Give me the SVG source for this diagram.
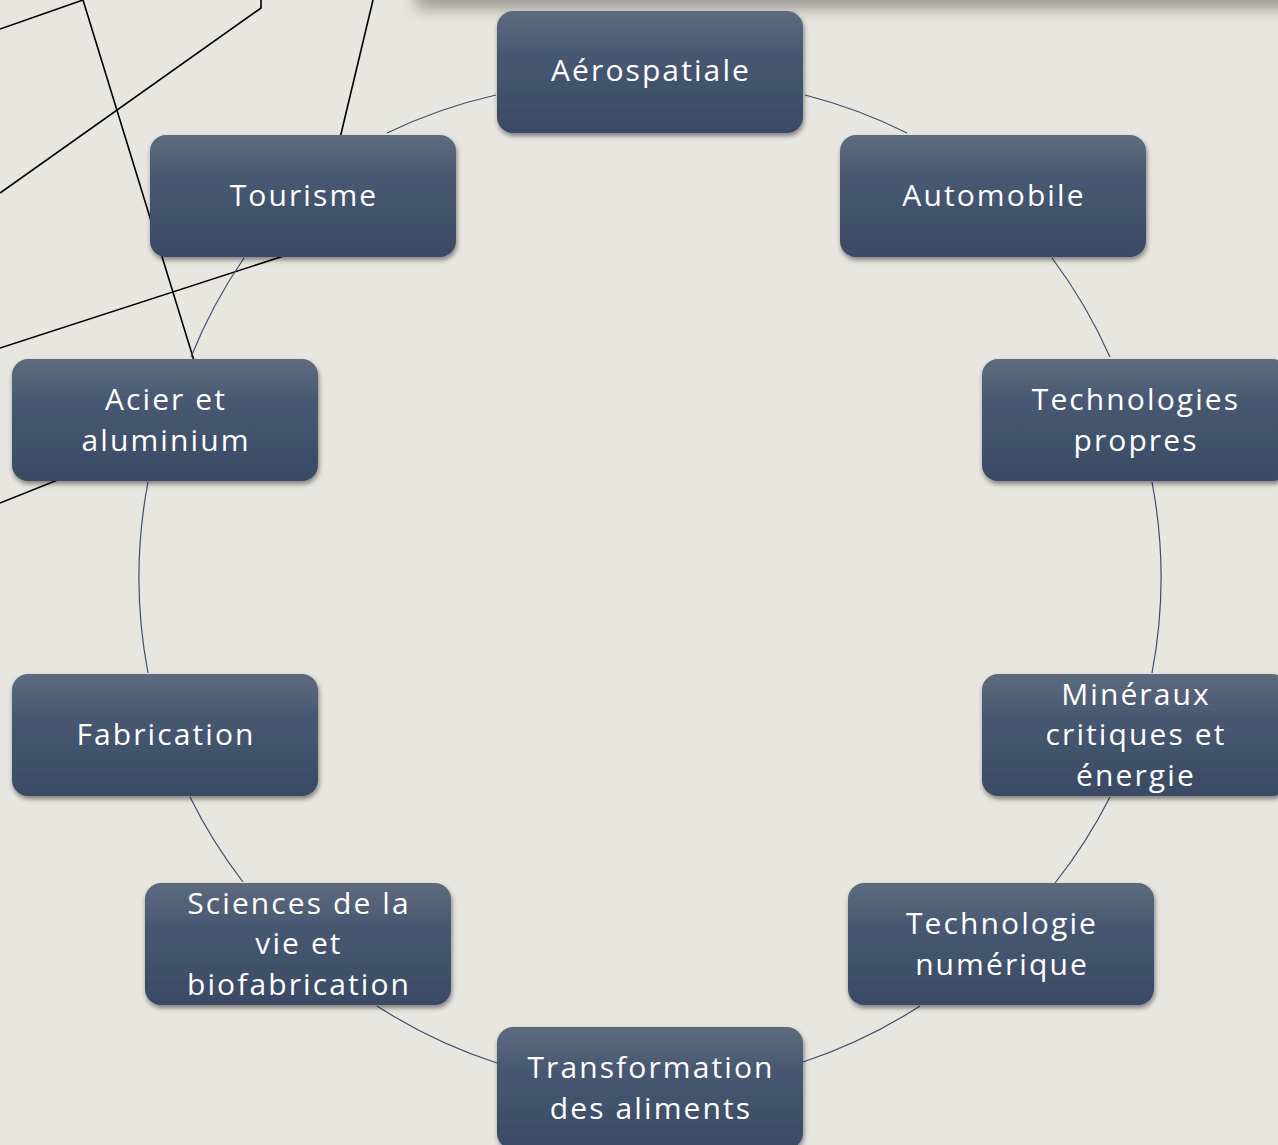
<svg xmlns="http://www.w3.org/2000/svg" width="1278" height="1145" viewBox="0 0 1278 1145">
  <defs>
    <linearGradient id="nodeFill" x1="0" y1="0" x2="0" y2="1">
      <stop offset="0" stop-color="#5e6b7e"/>
      <stop offset="0.35" stop-color="#485872"/>
      <stop offset="1" stop-color="#3a4a65"/>
    </linearGradient>
    <filter id="nodeShadow" x="-10%" y="-10%" width="120%" height="130%">
      <feDropShadow dx="1" dy="3" stdDeviation="2.5" flood-color="#000" flood-opacity="0.45"/>
    </filter>
    <filter id="bandBlur" x="-5%" y="-100%" width="110%" height="300%">
      <feGaussianBlur stdDeviation="8"/>
    </filter>
    <style>
      .node rect { fill: url(#nodeFill); filter: url(#nodeShadow); }
      .node text { fill: #ffffff; font-family: "Open Sans", "Noto Sans", "DejaVu Sans", sans-serif; font-size: 30px; letter-spacing: 2.1px; text-anchor: middle; }
      .arc { fill: none; stroke: #3d4f6c; stroke-width: 1.2; }
      .deco { fill: none; stroke: #000000; stroke-width: 1.6; stroke-linejoin: miter; }
    </style>
  </defs>

  <rect x="0" y="0" width="1278" height="1145" fill="#e8e6e0"/>

  <!-- top band shadow -->
  <rect x="416" y="-40" width="900" height="49" fill="#9c9a95" filter="url(#bandBlur)"/>

  <!-- decorative lines -->
  <g id="decor">
    <polyline class="deco" points="0,29 83,0 200,380"/>
    <polyline class="deco" points="261,-2 261,8 0,193"/>
    <line class="deco" x1="373" y1="0" x2="330" y2="180"/>
    <line class="deco" x1="0" y1="348" x2="330" y2="241"/>
    <line class="deco" x1="0" y1="503" x2="100" y2="463"/>
  </g>

  <!-- connectors -->
  <g id="connectors">
    <path class="arc" d="M805,95 A510,510 0 0 1 907,133"/>
    <path class="arc" d="M1052,258 A510,510 0 0 1 1110,357"/>
    <path class="arc" d="M1152,482 A510,510 0 0 1 1152,673"/>
    <path class="arc" d="M1110,797 A510,510 0 0 1 1055,883"/>
    <path class="arc" d="M920,1006 A510,510 0 0 1 803,1062"/>
    <path class="arc" d="M497,1063 A510,510 0 0 1 377,1006"/>
    <path class="arc" d="M243,882 A510,510 0 0 1 190,797"/>
    <path class="arc" d="M148,673 A510,510 0 0 1 148,482"/>
    <path class="arc" d="M191,357 A510,510 0 0 1 244,258"/>
    <path class="arc" d="M387,133 A510,510 0 0 1 496,95"/>
  </g>

  <g id="node-aerospatiale" class="node">
    <rect x="497" y="11" width="306" height="122" rx="16"/>
    <text x="651" y="81">Aérospatiale</text>
  </g>
  <g id="node-automobile" class="node">
    <rect x="840" y="135" width="306" height="122" rx="16"/>
    <text x="994" y="206">Automobile</text>
  </g>
  <g id="node-technologies-propres" class="node">
    <rect x="982" y="359" width="306" height="122" rx="16"/>
    <text x="1136" y="410">Technologies</text>
    <text x="1136" y="451">propres</text>
  </g>
  <g id="node-mineraux" class="node">
    <rect x="982" y="674" width="306" height="122" rx="16"/>
    <text x="1136" y="705">Minéraux</text>
    <text x="1136" y="745">critiques et</text>
    <text x="1136" y="786">énergie</text>
  </g>
  <g id="node-numerique" class="node">
    <rect x="848" y="883" width="306" height="122" rx="16"/>
    <text x="1002" y="934">Technologie</text>
    <text x="1002" y="975">numérique</text>
  </g>
  <g id="node-aliments" class="node">
    <rect x="497" y="1027" width="306" height="122" rx="16"/>
    <text x="651" y="1078">Transformation</text>
    <text x="651" y="1119">des aliments</text>
  </g>
  <g id="node-sciences" class="node">
    <rect x="145" y="883" width="306" height="122" rx="16"/>
    <text x="299" y="914">Sciences de la</text>
    <text x="299" y="954">vie et</text>
    <text x="299" y="995">biofabrication</text>
  </g>
  <g id="node-fabrication" class="node">
    <rect x="12" y="674" width="306" height="122" rx="16"/>
    <text x="166" y="745">Fabrication</text>
  </g>
  <g id="node-acier" class="node">
    <rect x="12" y="359" width="306" height="122" rx="16"/>
    <text x="166" y="410">Acier et</text>
    <text x="166" y="451">aluminium</text>
  </g>
  <g id="node-tourisme" class="node">
    <rect x="150" y="135" width="306" height="122" rx="16"/>
    <text x="304" y="206">Tourisme</text>
  </g>
</svg>
